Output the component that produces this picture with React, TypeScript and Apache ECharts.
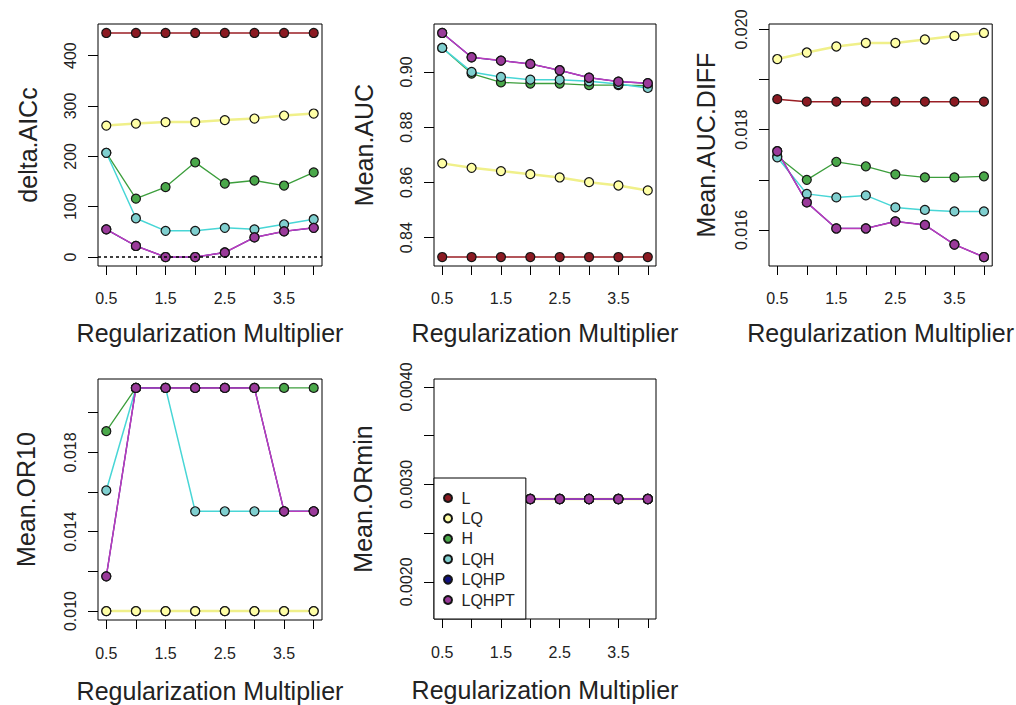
import React, { useEffect, useRef } from "react";
import * as echarts from "echarts";

// ---------- data ----------
const regMult = [0.5, 1, 1.5, 2, 2.5, 3, 3.5, 4];
const featureClasses = ["L", "LQ", "H", "LQH", "LQHP", "LQHPT"];
const xTickValues = [0.5, 1, 1.5, 2, 2.5, 3, 3.5, 4];
const xLabelValues = [0.5, 1.5, 2.5, 3.5];
const xAxisTitle = "Regularization Multiplier";

// delta.AICc
const aiccL = [445, 445, 445, 445, 445, 445, 445, 445];
const aiccLQ = [261, 265, 268, 268, 272, 275, 281, 285];
const aiccH = [207, 116, 139, 188, 146, 152, 142, 168];
const aiccLQH = [207, 77, 52, 52, 58, 55, 65, 75];
const aiccLQHP = [55, 22, 0, 0, 9, 39, 51, 58];
const aiccLQHPT = [55, 22, 0, 0, 9, 39, 51, 58];
const aiccTicks = [0, 100, 200, 300, 400];
const aiccLabels = [0, 100, 200, 300, 400];

// Mean.AUC
const aucL = [0.833, 0.833, 0.833, 0.833, 0.833, 0.833, 0.833, 0.833];
const aucLQ = [0.8669, 0.8653, 0.8641, 0.863, 0.8618, 0.8601, 0.8589, 0.8571];
const aucH = [0.9087, 0.8994, 0.8962, 0.8958, 0.8958, 0.8952, 0.8952, 0.895];
const aucLQH = [0.9087, 0.9, 0.8982, 0.8972, 0.8972, 0.8966, 0.8956, 0.8942];
const aucLQHP = [0.9141, 0.9053, 0.9041, 0.9029, 0.9006, 0.8979, 0.8965, 0.8959];
const aucLQHPT = [0.9141, 0.9053, 0.9041, 0.9029, 0.9006, 0.8979, 0.8965, 0.8959];
const aucTicks = [0.84, 0.86, 0.88, 0.9];
const aucLabels = [0.84, 0.86, 0.88, 0.9];

// Mean.AUC.DIFF
const diffL = [0.01861, 0.01856, 0.01856, 0.01856, 0.01856, 0.01856, 0.01856, 0.01856];
const diffLQ = [0.01941, 0.01954, 0.01966, 0.01973, 0.01973, 0.0198, 0.01987, 0.01993];
const diffH = [0.01747, 0.017, 0.01736, 0.01727, 0.01711, 0.01705, 0.01705, 0.01707];
const diffLQH = [0.01745, 0.01672, 0.01665, 0.01669, 0.01645, 0.0164, 0.01637, 0.01637];
const diffLQHP = [0.01757, 0.01655, 0.01603, 0.01603, 0.01617, 0.0161, 0.01571, 0.01546];
const diffLQHPT = [0.01757, 0.01655, 0.01603, 0.01603, 0.01617, 0.0161, 0.01571, 0.01546];
const diffTicks = [0.016, 0.017, 0.018, 0.019, 0.02];
const diffLabels = [0.016, 0.018, 0.02];

// Mean.OR10
const or10L = [0.01, 0.01, 0.01, 0.01, 0.01, 0.01, 0.01, 0.01];
const or10LQ = [0.01, 0.01, 0.01, 0.01, 0.01, 0.01, 0.01, 0.01];
const or10H = [0.01907, 0.02125, 0.02125, 0.02125, 0.02125, 0.02125, 0.02125, 0.02125];
const or10LQH = [0.01608, 0.02125, 0.02125, 0.01503, 0.01503, 0.01503, 0.01503, 0.01503];
const or10LQHP = [0.01175, 0.02125, 0.02125, 0.02125, 0.02125, 0.02125, 0.01503, 0.01503];
const or10LQHPT = [0.01175, 0.02125, 0.02125, 0.02125, 0.02125, 0.02125, 0.01503, 0.01503];
const or10Ticks = [0.01, 0.012, 0.014, 0.016, 0.018, 0.02];
const or10Labels = [0.01, 0.014, 0.018];

// Mean.ORmin
const orminL = [0.00285, 0.00285, 0.00285, 0.00285, 0.00285, 0.00285, 0.00285, 0.00285];
const orminLQ = [0.00285, 0.00285, 0.00285, 0.00285, 0.00285, 0.00285, 0.00285, 0.00285];
const orminH = [0.00285, 0.00285, 0.00285, 0.00285, 0.00285, 0.00285, 0.00285, 0.00285];
const orminLQH = [0.00285, 0.00285, 0.00285, 0.00285, 0.00285, 0.00285, 0.00285, 0.00285];
const orminLQHP = [0.00285, 0.00285, 0.00285, 0.00285, 0.00285, 0.00285, 0.00285, 0.00285];
const orminLQHPT = [0.00285, 0.00285, 0.00285, 0.00285, 0.00285, 0.00285, 0.00285, 0.00285];
const orminTicks = [0.002, 0.0025, 0.003, 0.0035, 0.004];
const orminLabels = [0.002, 0.003, 0.004];

// ---------- styling ----------
const FONT = "'Liberation Sans', Arial, sans-serif";
const fillColors = ["#8b1a22", "#ffffa6", "#4aa84a", "#7fcfcf", "#111180", "#9a3a9a"];
const lineColors = ["#9a1e24", "#f0f08a", "#3c9e3c", "#48d6d6", "#1a1a9a", "#bb3cbb"];
const lineWidths = [1.5, 2.5, 1.3, 1.5, 1.3, 1.5];

const panels = [
  { title: "delta.AICc", series: [aiccL, aiccLQ, aiccH, aiccLQH, aiccLQHP, aiccLQHPT], ticks: aiccTicks, labels: aiccLabels, dec: 0,
    grid: { left: 98, top: 24, width: 224, height: 242 }, yGap: 58, xGap: 54, xMargin: 24 },
  { title: "Mean.AUC", series: [aucL, aucLQ, aucH, aucLQH, aucLQHP, aucLQHPT], ticks: aucTicks, labels: aucLabels, dec: 2,
    grid: { left: 434, top: 24, width: 222, height: 242 }, yGap: 58, xGap: 54, xMargin: 24 },
  { title: "Mean.AUC.DIFF", series: [diffL, diffLQ, diffH, diffLQH, diffLQHP, diffLQHPT], ticks: diffTicks, labels: diffLabels, dec: 3,
    grid: { left: 769, top: 24, width: 224, height: 242 }, yGap: 51, xGap: 54, xMargin: 24 },
  { title: "Mean.OR10", series: [or10L, or10LQ, or10H, or10LQH, or10LQHP, or10LQHPT], ticks: or10Ticks, labels: or10Labels, dec: 3,
    grid: { left: 98, top: 379, width: 224, height: 241 }, yGap: 60, xGap: 58, xMargin: 25 },
  { title: "Mean.ORmin", series: [orminL, orminLQ, orminH, orminLQH, orminLQHP, orminLQHPT], ticks: orminTicks, labels: orminLabels, dec: 4,
    grid: { left: 434, top: 379, width: 222, height: 240 }, yGap: 59, xGap: 58, xMargin: 25 },
];

// R-style axis range: data range extended by 4% each side
function rRange(values: number[]): [number, number] {
  let lo = Math.min(...values);
  let hi = Math.max(...values);
  if (hi === lo) {
    const d = 0.4 * Math.abs(lo);
    lo -= d;
    hi += d;
  }
  const ext = (hi - lo) * 0.04;
  return [lo - ext, hi + ext];
}

export default function App() {
  const ref = useRef<HTMLDivElement>(null);

  useEffect(() => {
    if (!ref.current) return;
    const chart = echarts.init(ref.current, undefined, { renderer: "svg" });
    const xr = rRange(regMult);

    const grids: any[] = [];
    const xAxes: any[] = [];
    const yAxes: any[] = [];
    const series: any[] = [];

    panels.forEach((p, i) => {
      grids.push({ ...p.grid, show: true, borderColor: "#000", borderWidth: 1, backgroundColor: "transparent", containLabel: false });
      xAxes.push({
        type: "value", gridIndex: i, min: xr[0], max: xr[1],
        name: xAxisTitle, nameLocation: "middle", nameGap: p.xGap,
        nameTextStyle: { fontFamily: FONT, fontSize: 25, color: "#222" },
        axisLine: { show: false, onZero: false },
        axisTick: { show: true, customValues: xTickValues, length: 9, lineStyle: { color: "#000", width: 1 } },
        axisLabel: { show: true, customValues: xLabelValues, margin: p.xMargin, fontFamily: FONT, fontSize: 16, color: "#222",
          formatter: (v: number) => v.toFixed(1) },
        splitLine: { show: false },
      });
      const all = ([] as number[]).concat(...p.series);
      const yr = rRange(all);
      yAxes.push({
        type: "value", gridIndex: i, min: yr[0], max: yr[1],
        name: p.title, nameLocation: "middle", nameGap: p.yGap, nameRotate: 90,
        nameTextStyle: { fontFamily: FONT, fontSize: 25, color: "#222" },
        axisLine: { show: false, onZero: false },
        axisTick: { show: true, customValues: p.ticks, length: 10, lineStyle: { color: "#000", width: 1 } },
        axisLabel: { show: true, customValues: p.labels, rotate: 90, margin: 20, fontFamily: FONT, fontSize: 16, color: "#222",
          formatter: (v: number) => v.toFixed(p.dec) },
        splitLine: { show: false },
      });
      p.series.forEach((vals, k) => {
        const s: any = {
          type: "line", name: featureClasses[k], xAxisIndex: i, yAxisIndex: i,
          data: regMult.map((x, j) => [x, vals[j]]),
          symbol: "circle", symbolSize: 9, showSymbol: true,
          itemStyle: { color: fillColors[k], borderColor: "#151515", borderWidth: 1.2 },
          lineStyle: { color: lineColors[k], width: lineWidths[k] },
          emphasis: { disabled: true }, silent: true,
        };
        if (i === 0 && k === 0) {
          s.markLine = {
            silent: true, symbol: "none", label: { show: false },
            lineStyle: { color: "#000", type: [3, 3], width: 1.5 },
            data: [{ yAxis: 0 }],
          };
        }
        series.push(s);
      });
    });

    chart.setOption({
      animation: false,
      backgroundColor: "#fff",
      grid: grids,
      xAxis: xAxes,
      yAxis: yAxes,
      legend: {
        data: featureClasses,
        orient: "vertical",
        left: 434, top: 478,
        padding: [12, 11, 11, 9],
        itemGap: 4.4,
        itemWidth: 17, itemHeight: 8,
        icon: "circle",
        backgroundColor: "#fff",
        borderColor: "#000", borderWidth: 1,
        textStyle: { fontFamily: FONT, fontSize: 16, color: "#222", lineHeight: 16 },
        selectedMode: false,
      },
      series,
    });

    return () => chart.dispose();
  }, []);

  return <div ref={ref} style={{ position: "absolute", left: 0, top: 0, width: 1016, height: 705, background: "#fff" }} />;
}
